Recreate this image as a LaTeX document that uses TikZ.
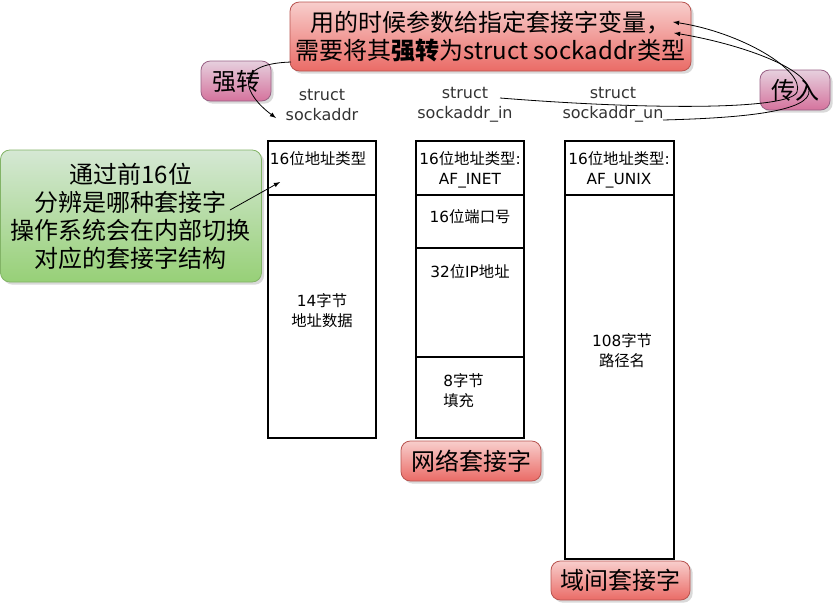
\documentclass[tikz,border=0pt]{standalone}
\usepackage{fontspec}
\setmainfont{DejaVu Sans}
\newfontfamily\cjk{Noto Sans CJK SC}
\newcommand{\zh}[1]{{\cjk #1}}
\usetikzlibrary{shadows}

\definecolor{redtop}{HTML}{F8CECC}
\definecolor{redbot}{HTML}{EA6B66}
\definecolor{redline}{HTML}{B85450}
\definecolor{greentop}{HTML}{D5E8D4}
\definecolor{greenbot}{HTML}{97D077}
\definecolor{greenline}{HTML}{82B366}
\definecolor{pinktop}{HTML}{E6D0DE}
\definecolor{pinkbot}{HTML}{D5739D}
\definecolor{pinkline}{HTML}{996185}

\begin{document}
\begin{tikzpicture}[
            x = 0.75pt, y = -0.75pt,
            every node/.style = {inner sep = 0pt, align = center},
            note/.style = {draw, rounded corners = 7pt, line width = 0.6pt,
                font = \cjk\fontsize{18}{21}\selectfont,
                drop shadow = {opacity = 0.3, shadow xshift = 2pt, shadow yshift = -2pt}},
            rednote/.style = {note, draw = redline, top color = redtop, bottom color = redbot},
            greennote/.style = {note, draw = greenline, top color = greentop, bottom color = greenbot},
            pinknote/.style = {note, draw = pinkline, top color = pinktop, bottom color = pinkbot},
            field/.style = {font = \fontsize{11.5}{15}\selectfont},
            head/.style = {font = \fontsize{12}{15}\selectfont, text = black!80},
            frame/.style = {line width = 1.5pt},
            edge/.style = {draw, -latex, line width = 0.6pt}
        ]
        \useasboundingbox (0,0) rectangle (833,604);

        % three structures
        \draw[frame] (268,141) rectangle (376,438);
        \draw[frame] (268,195) -- (376,195);
        \draw[frame] (416,141) rectangle (524,438);
        \draw[frame] (416,195) -- (524,195);
        \draw[frame] (416,248) -- (524,248);
        \draw[frame] (416,357) -- (524,357);
        \draw[frame] (565,141) rectangle (674,559);
        \draw[frame] (565,195) -- (674,195);

        \node[head] (H1) at (322,105) {struct\\sockaddr};
        \node[head] (H2) at (465,105) {struct\\sockaddr\_in};
        \node[head] (H3) at (613,105) {struct\\sockaddr\_un};

        \node[field] (F1) at (318,159) {16\zh{位地址类型}};
        \node[field] (D1) at (322,311) {14\zh{字节}\\\zh{地址数据}};
        \node[field] (F2) at (470,170) {16\zh{位地址类型}:\\AF\_INET};
        \node[field] (P2) at (470,217) {16\zh{位端口号}};
        \node[field] (I2) at (470,272) {32\zh{位}IP\zh{地址}};
        \node[field, align = left, anchor = west] (G2) at (443,391) {8\zh{字节}\\\zh{填充}};
        \node[field] (F3) at (619,170) {16\zh{位地址类型}:\\AF\_UNIX};
        \node[field] (U3) at (622,351) {108\zh{字节}\\\zh{路径名}};

        % notes
        \node[rednote, minimum width = 300.75pt, minimum height = 51.75pt] (R1) at (490.5,36.5)
            {用的时候参数给指定套接字变量，\\需要将其\textbf{强转}为struct sockaddr类型};
        \node[greennote, minimum width = 195.75pt, minimum height = 99pt] (G1) at (131,216)
            {通过前16位\\分辨是哪种套接字\\操作系统会在内部切换\\对应的套接字结构};
        \node[pinknote, minimum width = 52.5pt, minimum height = 30pt] (Q1) at (236,81) {强转};
        \node[pinknote, minimum width = 52.5pt, minimum height = 30pt] (Q2) at (795,90) {传入};
        \node[rednote, minimum width = 105pt, minimum height = 30pt] (N2) at (471,461) {网络套接字};
        \node[rednote, minimum width = 104.25pt, minimum height = 29.25pt] (N3) at (620.5,580.5) {域间套接字};

        % connectors
        \coordinate (cast) at (291,62);
        \coordinate (head1) at (276,118);
        \coordinate (fromG) at (230,210);
        \coordinate (type1) at (280,182);
        \coordinate (inA) at (500,98);
        \coordinate (unA) at (663,120);
        \coordinate (argA) at (673,22);
        \coordinate (argB) at (674,33);

        \draw[edge] (cast) .. controls (230,64) and (245,95) .. (head1);
        \draw[edge] (fromG) -- (type1);
        \draw[edge] (inA) .. controls (650,110) and (790,110) .. (797,92)
            .. controls (805,70) and (740,32) .. (argA);
        \draw[edge] (unA) .. controls (740,118) and (812,112) .. (809,90)
            .. controls (805,65) and (730,42) .. (argB);
    \end{tikzpicture}
\end{document}
